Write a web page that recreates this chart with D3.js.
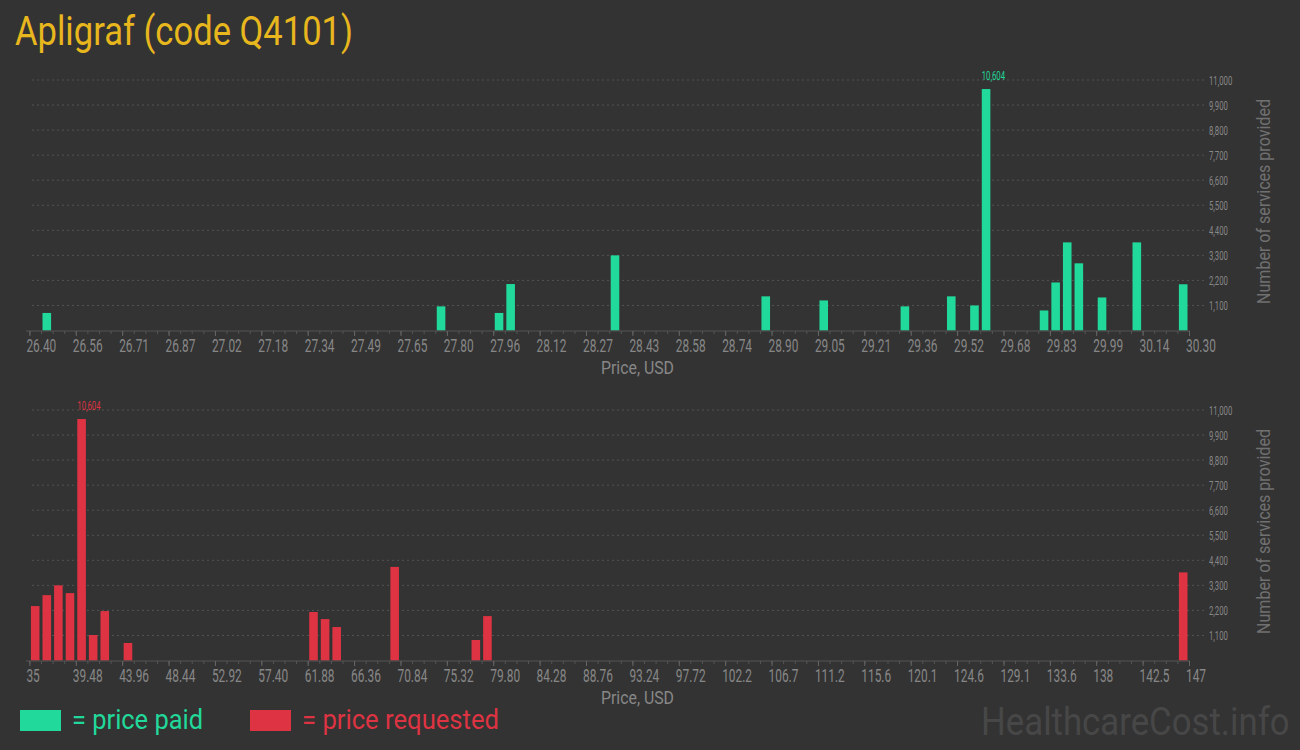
<!DOCTYPE html>
<html>
<head>
<meta charset="utf-8">
<script src="https://cdn.jsdelivr.net/npm/d3@7"></script>
<style>
  html, body { margin: 0; padding: 0; background: #333333; }
  svg { display: block; }
  text { font-family: Roboto, "Noto Sans", sans-serif; }
</style>
</head>
<body>
<svg id="chart" width="1300" height="750"></svg>
<script>
// ---------- DATA ----------
const titleText = "Apligraf (code Q4101)";

// price paid histogram (bin lower edge, USD) and counts
const paidDomain = [26.40, 30.30];
const paidBinWidth = 0.039;
const paidPrices = [26.439, 27.765, 27.960, 27.999, 28.350, 28.857, 29.052, 29.325, 29.481,
                    29.559, 29.598, 29.793, 29.832, 29.871, 29.910, 29.988, 30.105, 30.261];
const paidCounts = [770, 1060, 770, 2040, 3300, 1500, 1320, 1060, 1500,
                    1100, 10604, 880, 2110, 3870, 2950, 1450, 3870, 2030];
const paidTickLabels = ["26.40","26.56","26.71","26.87","27.02","27.18","27.34","27.49","27.65",
                        "27.80","27.96","28.12","28.27","28.43","28.58","28.74","28.90","29.05",
                        "29.21","29.36","29.52","29.68","29.83","29.99","30.14","30.30"];

// price requested histogram
const reqDomain = [35, 147];
const reqBinWidth = 1.12;
const reqPrices = [35.00, 36.12, 37.24, 38.36, 39.48, 40.60, 41.72, 43.96,
                   61.88, 63.00, 64.12, 69.72, 77.56, 78.68, 145.88];
const reqCounts = [2390, 2870, 3300, 2960, 10604, 1120, 2170, 770,
                   2130, 1820, 1470, 4110, 900, 1950, 3870];
const reqTickLabels = ["35","39.48","43.96","48.44","52.92","57.40","61.88","66.36","70.84",
                       "75.32","79.80","84.28","88.76","93.24","97.72","102.2","106.7","111.2",
                       "115.6","120.1","124.6","129.1","133.6","138","142.5","147"];

const yTicks = [1100, 2200, 3300, 4400, 5500, 6600, 7700, 8800, 9900, 11000];
const yMax = 11000;

// ---------- STYLE ----------
const GREEN = "#21d99a";
const RED = "#dd3342";
const GOLD = "#e8b71e";
const AXIS_TEXT = "#878787";
const GRID = "#535353";

const svg = d3.select("#chart");

// title
svg.append("text")
  .attr("x", 15).attr("y", 45)
  .attr("fill", GOLD)
  .attr("font-size", 41)
  .attr("textLength", 338)
  .attr("lengthAdjust", "spacingAndGlyphs")
  .text(titleText);

function drawPanel(opts) {
  const { baseline, domain, binWidth, prices, counts, tickLabels, color } = opts;
  const plotLeft = 29.4, plotRight = 1189;
  const x = d3.scaleLinear().domain(domain).range([plotLeft, plotRight]);
  const y = d3.scaleLinear().domain([0, yMax]).range([baseline, baseline - 250.5]);
  const g = svg.append("g");

  // gridlines
  g.append("g").selectAll("line").data(yTicks).join("line")
    .attr("x1", 32).attr("x2", 1205)
    .attr("y1", d => y(d)).attr("y2", d => y(d))
    .attr("stroke", GRID).attr("stroke-width", 1)
    .attr("stroke-dasharray", "2,3");

  // y axis labels (right)
  const yAxis = d3.axisRight(y).tickValues(yTicks).tickSize(0).tickPadding(0)
    .tickFormat(d3.format(","));
  const ya = g.append("g").attr("transform", "translate(1209,0)").call(yAxis);
  ya.select(".domain").remove();
  ya.selectAll("text")
    .attr("x", 0).attr("dy", "0.35em")
    .attr("fill", AXIS_TEXT)
    .attr("font-size", 12.5)
    .attr("font-family", "Roboto")
    .attr("text-anchor", "start")
    .attr("transform", "scale(0.62,1)");

  // bars
  const pad = 1.5;
  const bars = prices.map((p, i) => ({ p, c: counts[i] }));
  g.append("g").selectAll("rect").data(bars).join("rect")
    .attr("x", d => x(d.p) + pad)
    .attr("width", d => x(d.p + binWidth) - x(d.p) - 2 * pad)
    .attr("y", d => y(d.c))
    .attr("height", d => y(0) - y(d.c))
    .attr("fill", color);

  // max label
  const maxBar = bars.reduce((a, b) => (b.c > a.c ? b : a));
  g.append("text")
    .attr("transform", `translate(${x(maxBar.p) + pad},${y(maxBar.c) - 9}) scale(0.62,1)`)
    .attr("fill", color)
    .attr("font-size", 12.5)
    .text(d3.format(",")(maxBar.c));

  // x axis line
  g.append("line")
    .attr("x1", 26).attr("x2", 1190)
    .attr("y1", baseline + 0.5).attr("y2", baseline + 0.5)
    .attr("stroke", "#555").attr("stroke-width", 1);

  // minor ticks (bin edges)
  const nBins = Math.round((domain[1] - domain[0]) / binWidth);
  const minorVals = d3.range(nBins + 1).map(k => domain[0] + k * binWidth);
  const minorAxis = d3.axisBottom(x).tickValues(minorVals).tickSize(3).tickFormat("");
  const mn = g.append("g").attr("transform", `translate(0,${baseline + 0.5})`).call(minorAxis);
  mn.select(".domain").remove();
  mn.selectAll("line").attr("stroke", "#555");

  // major ticks
  const step = (domain[1] - domain[0]) / (tickLabels.length - 1);
  const majorVals = tickLabels.map((_, k) => domain[0] + k * step);
  const majorAxis = d3.axisBottom(x).tickValues(majorVals).tickSize(5)
    .tickFormat((d, i) => tickLabels[i]);
  const mj = g.append("g").attr("transform", `translate(0,${baseline + 0.5})`).call(majorAxis);
  mj.select(".domain").remove();
  mj.selectAll("line").attr("stroke", "#666");
  mj.selectAll("text")
    .attr("x", null).attr("y", null).attr("dy", null)
    .attr("text-anchor", "start")
    .attr("fill", AXIS_TEXT)
    .attr("font-size", 18)
    .attr("font-family", "Roboto")
    .attr("transform", "translate(-3.5,21) scale(0.66,1)");

  // x axis title
  g.append("text")
    .attr("x", 637.5).attr("y", baseline + 43.5)
    .attr("text-anchor", "middle")
    .attr("fill", AXIS_TEXT)
    .attr("font-size", 18)
    .attr("textLength", 73)
    .attr("lengthAdjust", "spacingAndGlyphs")
    .text("Price, USD");

  // y axis title
  g.append("text")
    .attr("transform", `translate(1270,${baseline - 129}) rotate(-90)`)
    .attr("text-anchor", "middle")
    .attr("fill", "#707070")
    .attr("font-size", 18)
    .attr("textLength", 205)
    .attr("lengthAdjust", "spacingAndGlyphs")
    .text("Number of services provided");
}

drawPanel({ baseline: 330.5, domain: paidDomain, binWidth: paidBinWidth,
            prices: paidPrices, counts: paidCounts, tickLabels: paidTickLabels, color: GREEN });
drawPanel({ baseline: 660.5, domain: reqDomain, binWidth: reqBinWidth,
            prices: reqPrices, counts: reqCounts, tickLabels: reqTickLabels, color: RED });

// legend
const legend = [
  { label: "= price paid", color: GREEN, x: 20, w: 131 },
  { label: "= price requested", color: RED, x: 250, w: 197 }
];
const lg = svg.append("g");
lg.selectAll("rect").data(legend).join("rect")
  .attr("x", d => d.x).attr("y", 710).attr("width", 41).attr("height", 21)
  .attr("fill", d => d.color);
lg.selectAll("text").data(legend).join("text")
  .attr("x", d => d.x + 52).attr("y", 729)
  .attr("fill", d => d.color)
  .attr("font-size", 27)
  .attr("textLength", d => d.w)
  .attr("lengthAdjust", "spacingAndGlyphs")
  .text(d => d.label);

// watermark
svg.append("text")
  .attr("transform", "translate(981,735) scale(0.915,1)")
  .attr("fill", "#474747")
  .attr("font-size", 38)
  .text("HealthcareCost.info");
</script>
</body>
</html>
